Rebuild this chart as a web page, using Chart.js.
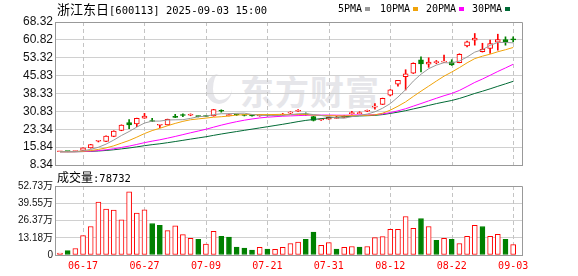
<!DOCTYPE html>
<html>
<head>
<meta charset="utf-8">
<script src="https://cdn.jsdelivr.net/npm/chart.js@4"></script>
<style>
  body { margin: 0; background: #fff; }
  #wrap { position: relative; width: 578px; height: 276px; overflow: hidden; }
  .abs { position: absolute; white-space: nowrap; }
  .cn { font-family: "Noto Sans CJK SC", sans-serif; }
  .en { font-family: "DejaVu Sans Mono", monospace; }
  #wm { left: 240px; top: 66px; font: bold 34px "Noto Sans CJK SC"; color: #e6e6ea; letter-spacing: 1px; }
  #logo { left: 206px; top: 74px; width: 26px; height: 30px; border-radius: 50%;
          border-left: 7px solid #e6e6ea; border-bottom: 4px solid #e6e6ea; box-sizing: border-box; }
  .sq { position: absolute; width: 5px; height: 4px; top: 7px; }
  canvas { position: absolute; left: 0; }
</style>
</head>
<body>
<div id="wrap">
  <div id="logo" class="abs"></div>
  <div id="wm" class="abs">东方财富</div>
  <canvas id="priceChart" width="578" height="176" style="top:0"></canvas>
  <canvas id="volChart" width="578" height="100" style="top:176px"></canvas>

  <div class="abs" style="left:57px; top:0; line-height:18px; color:#000">
    <span class="cn" style="font-size:13px">浙江东日</span><span class="en" style="font-size:10.5px">[600113] 2025-09-03 15:00</span>
  </div>

  <!-- legenda das médias -->
  <div class="abs en" style="left:338px; top:0; line-height:17px; font-size:10px; color:#000">5PMA</div>
  <div class="sq" style="left:365px; background:#999"></div>
  <div class="abs en" style="left:380px; top:0; line-height:17px; font-size:10px; color:#000">10PMA</div>
  <div class="sq" style="left:413px; background:#f0a30a"></div>
  <div class="abs en" style="left:426px; top:0; line-height:17px; font-size:10px; color:#000">20PMA</div>
  <div class="sq" style="left:459px; background:#ff00ff"></div>
  <div class="abs en" style="left:472px; top:0; line-height:17px; font-size:10px; color:#000">30PMA</div>
  <div class="sq" style="left:505px; background:#006a35"></div>

  <div class="abs" style="left:57px; top:168px; line-height:18px; color:#000">
    <span class="cn" style="font-size:12px">成交量</span><span class="en" style="font-size:10.5px">:78732</span>
  </div>
</div>

<script>
// =========================================
// DADOS
// =========================================
const dates = ["06-12","06-13","06-16","06-17","06-18","06-19","06-20","06-23","06-24","06-25",
  "06-26","06-27","06-30","07-01","07-02","07-03","07-04","07-07","07-08","07-09",
  "07-10","07-11","07-14","07-15","07-16","07-17","07-18","07-21","07-22","07-23",
  "07-24","07-25","07-28","07-29","07-30","07-31","08-01","08-04","08-05","08-06",
  "08-07","08-08","08-11","08-12","08-13","08-14","08-15","08-18","08-19","08-20",
  "08-21","08-22","08-25","08-26","08-27","08-28","08-29","09-01","09-02","09-03"];

const opens = [13.9,14.0,14.0,14.5,15.5,18.3,18.2,20.3,22.8,26.1,
  25.6,28.0,26.8,25.0,25.2,28.5,29.3,29.2,28.8,28.9,
  28.9,31.2,29.0,29.5,29.3,29.1,28.9,29.1,29.0,29.2,
  30.1,30.9,29.8,28.7,27.2,27.6,27.9,28.3,29.9,29.9,
  30.9,32.6,33.8,37.6,42.2,45.4,46.9,52.5,50.6,51.3,
  51.5,51.6,51.3,58.3,60.7,55.9,57.2,59.9,60.9,61.2];
const closes = [14.0,13.95,14.1,15.5,16.9,18.5,20.5,22.6,25.1,25.2,
  27.9,28.9,26.6,25.2,27.5,28.3,29.1,29.4,28.6,28.7,
  31.6,30.9,29.5,29.3,29.1,28.9,29.1,29.0,29.2,29.4,
  30.4,31.2,29.4,27.0,27.5,28.3,28.2,28.8,30.3,30.1,
  31.1,33.0,36.3,39.9,43.9,46.6,51.0,50.7,51.5,51.4,
  51.7,50.3,54.8,60.0,61.6,56.9,59.3,60.9,60.0,60.8];
const highs = [14.0,14.1,14.2,15.5,17.0,18.6,20.6,22.7,25.2,27.4,
  28.0,30.0,27.9,25.3,27.6,29.6,29.8,29.8,28.9,29.0,
  31.7,31.5,29.7,29.7,29.4,29.2,29.5,29.2,29.3,30.0,
  30.7,31.6,30.2,28.8,27.7,28.4,28.8,29.2,30.8,30.7,
  31.4,34.1,36.4,40.0,43.9,48.3,51.2,53.7,53.3,52.2,
  54.4,52.5,55.0,60.3,63.5,59.4,60.7,63.2,62.1,62.1];
const lows = [13.9,13.9,13.95,14.4,15.4,18.0,18.1,20.2,22.7,23.6,
  24.4,27.9,26.5,24.0,25.1,28.2,28.6,29.0,28.5,28.6,
  28.8,30.5,28.9,29.1,28.9,28.8,28.8,28.9,28.9,29.1,
  29.9,30.8,29.2,26.8,27.0,27.5,27.8,28.2,29.7,29.8,
  30.7,31.8,33.7,37.3,41.4,39.8,46.7,47.4,49.3,50.8,
  51.4,50.1,51.2,57.9,58.6,55.7,55.1,56.5,58.6,60.0];

// volume em 万手
const volumes = [1.5,3.3,5.0,14.8,21.8,40.4,35.1,34.4,26.9,48.2,
  32.1,34.6,24.1,22.6,18.6,22.3,15.6,12.8,12.0,8.3,
  18.1,14.3,13.6,6.0,5.3,3.8,5.8,4.5,4.3,5.8,
  8.8,9.8,12.0,17.6,7.3,9.5,4.5,5.8,6.5,6.0,
  6.5,13.3,14.1,19.6,19.6,29.4,20.3,27.9,21.8,11.3,
  12.8,12.0,8.8,14.3,22.6,21.8,14.3,15.8,12.0,7.87];

// fechamentos anteriores a 06-12 (as médias já começam perto de 14)
const earlierCloses = [13.9,13.9,13.9,13.9,13.9,13.9,13.9,13.9,13.9,13.9,
  13.9,13.9,13.9,13.9,13.9,13.9,13.9,13.9,13.9,13.9,
  13.9,13.9,13.9,13.9,13.9,13.9,13.9,13.9,13.9];

const priceTicks = [8.34, 15.84, 23.34, 30.83, 38.33, 45.83, 53.32, 60.82, 68.32];
const volumeTicks = [0, 13.18, 26.37, 39.55, 52.73];
const dateTickIndex = [3, 11, 19, 27, 35, 43, 51, 59];

// =========================================
// CORES E FUNÇÕES AUXILIARES
// =========================================
const RED = "#ff0000";
const GREEN = "#008000";
const GRID = "#d0d0d0";
const FRAME = "#999999";

Chart.defaults.font.family = "'Liberation Sans', 'Noto Sans CJK SC', sans-serif";
Chart.defaults.color = "#111";

function mediaMovel(n) {
    const todos = earlierCloses.concat(closes);
    const off = earlierCloses.length;
    return closes.map((c, i) => {
        const janela = todos.slice(off + i - n + 1, off + i + 1);
        return { x: i, y: janela.reduce((a, b) => a + b, 0) / n };
    });
}

const sobe = closes.map((c, i) => c >= opens[i]);
const corCandle = sobe.map(s => (s ? RED : GREEN));
const preenchCandle = sobe.map(s => (s ? "#ffffff" : GREEN));
const prevCloses = [earlierCloses[earlierCloses.length - 1]].concat(closes.slice(0, -1));
const volSobe = closes.map((c, i) => c >= prevCloses[i]);

// moldura (borda de cima e da direita)
const moldura = {
    id: "moldura",
    afterDraw(chart) {
        const { ctx, chartArea: a } = chart;
        ctx.save();
        ctx.strokeStyle = FRAME;
        ctx.lineWidth = 1;
        ctx.beginPath();
        ctx.moveTo(Math.round(a.left) + 0.5, Math.round(a.top) + 0.5);
        ctx.lineTo(Math.round(a.right) + 0.5, Math.round(a.top) + 0.5);
        ctx.lineTo(Math.round(a.right) + 0.5, Math.round(a.bottom) + 0.5);
        ctx.stroke();
        ctx.restore();
    }
};

// linhas verticais tracejadas nas datas marcadas
const linhasDatas = {
    id: "linhasDatas",
    beforeDatasetsDraw(chart) {
        const { ctx, chartArea: a, scales } = chart;
        ctx.save();
        ctx.strokeStyle = "#c4c4c4";
        ctx.lineWidth = 1;
        ctx.setLineDash([4, 3]);
        dateTickIndex.forEach(v => {
            const px = Math.round(scales.x.getPixelForValue(v)) + 0.5;
            ctx.beginPath();
            ctx.moveTo(px, a.top);
            ctx.lineTo(px, a.bottom);
            ctx.stroke();
        });
        ctx.restore();
    }
};

function eixoX(mostrarRotulos) {
    return {
        type: "linear",
        offset: false,
        min: -0.65,
        max: 60.15,
        afterBuildTicks: s => { s.ticks = dateTickIndex.map(v => ({ value: v })); },
        afterFit: s => { s.height = mostrarRotulos ? 21 : 0; },
        ticks: {
            display: mostrarRotulos,
            autoSkip: false,
            maxRotation: 0,
            padding: 5,
            color: RED,
            font: { family: "'DejaVu Sans Mono', monospace", size: 10 },
            callback: v => dates[v]
        },
        grid: { display: false, drawTicks: false },
        border: { display: true, color: FRAME }
    };
}

// =========================================
// GRÁFICO DE PREÇO (K-LINE + MÉDIAS)
// =========================================
const idx = closes.map((c, i) => i);

new Chart(document.getElementById("priceChart"), {
    type: "bar",
    data: {
        datasets: [
            { type: "line", data: mediaMovel(5), borderColor: "#999999", borderWidth: 1, pointRadius: 0, order: 0 },
            { type: "line", data: mediaMovel(10), borderColor: "#f0a30a", borderWidth: 1, pointRadius: 0, order: 0 },
            { type: "line", data: mediaMovel(20), borderColor: "#ff00ff", borderWidth: 1, pointRadius: 0, order: 0 },
            { type: "line", data: mediaMovel(30), borderColor: "#006a35", borderWidth: 1, pointRadius: 0, order: 0 },
            {
                data: idx.map(i => ({ x: i, y: [opens[i], closes[i]] })),
                backgroundColor: preenchCandle,
                borderColor: corCandle,
                borderWidth: 1,
                borderSkipped: false,
                barThickness: 5,
                minBarLength: 1,
                grouped: false,
                order: 1
            },
            {
                data: idx.map(i => ({ x: i, y: [lows[i], highs[i]] })),
                backgroundColor: corCandle,
                barThickness: 1,
                grouped: false,
                order: 2
            }
        ]
    },
    options: {
        responsive: false,
        animation: false,
        layout: { padding: { top: 22, right: 56, bottom: 11, left: 0 } },
        plugins: { legend: { display: false }, tooltip: { enabled: false } },
        scales: {
            x: eixoX(false),
            y: {
                min: 8.34,
                max: 68.32,
                afterBuildTicks: s => { s.ticks = priceTicks.map(v => ({ value: v })); },
                afterFit: s => { s.width = 55; },
                ticks: { padding: 2, font: { size: 12 }, callback: v => v.toFixed(2) },
                grid: { color: GRID, drawTicks: false },
                border: { color: FRAME }
            }
        }
    },
    plugins: [linhasDatas, moldura]
});

// =========================================
// GRÁFICO DE VOLUME
// =========================================
new Chart(document.getElementById("volChart"), {
    type: "bar",
    data: {
        datasets: [
            {
                data: idx.map(i => ({ x: i, y: volumes[i] })),
                backgroundColor: volSobe.map(s => (s ? "#ffffff" : GREEN)),
                borderColor: volSobe.map(s => (s ? RED : GREEN)),
                borderWidth: 1,
                borderSkipped: false,
                barThickness: 5,
                grouped: false
            }
        ]
    },
    options: {
        responsive: false,
        animation: false,
        layout: { padding: { top: 10, right: 56, bottom: 0, left: 0 } },
        plugins: { legend: { display: false }, tooltip: { enabled: false } },
        scales: {
            x: eixoX(true),
            y: {
                min: 0,
                max: 52.73,
                afterBuildTicks: s => { s.ticks = volumeTicks.map(v => ({ value: v })); },
                afterFit: s => { s.width = 55; },
                ticks: {
                    padding: 2,
                    font: { family: "'Liberation Sans', 'Noto Sans CJK SC', sans-serif", size: 10 },
                    callback: v => (v === 0 ? "0" : v.toFixed(2) + "万")
                },
                grid: { color: GRID, drawTicks: false },
                border: { color: FRAME }
            }
        }
    },
    plugins: [linhasDatas, moldura]
});
</script>
</body>
</html>
